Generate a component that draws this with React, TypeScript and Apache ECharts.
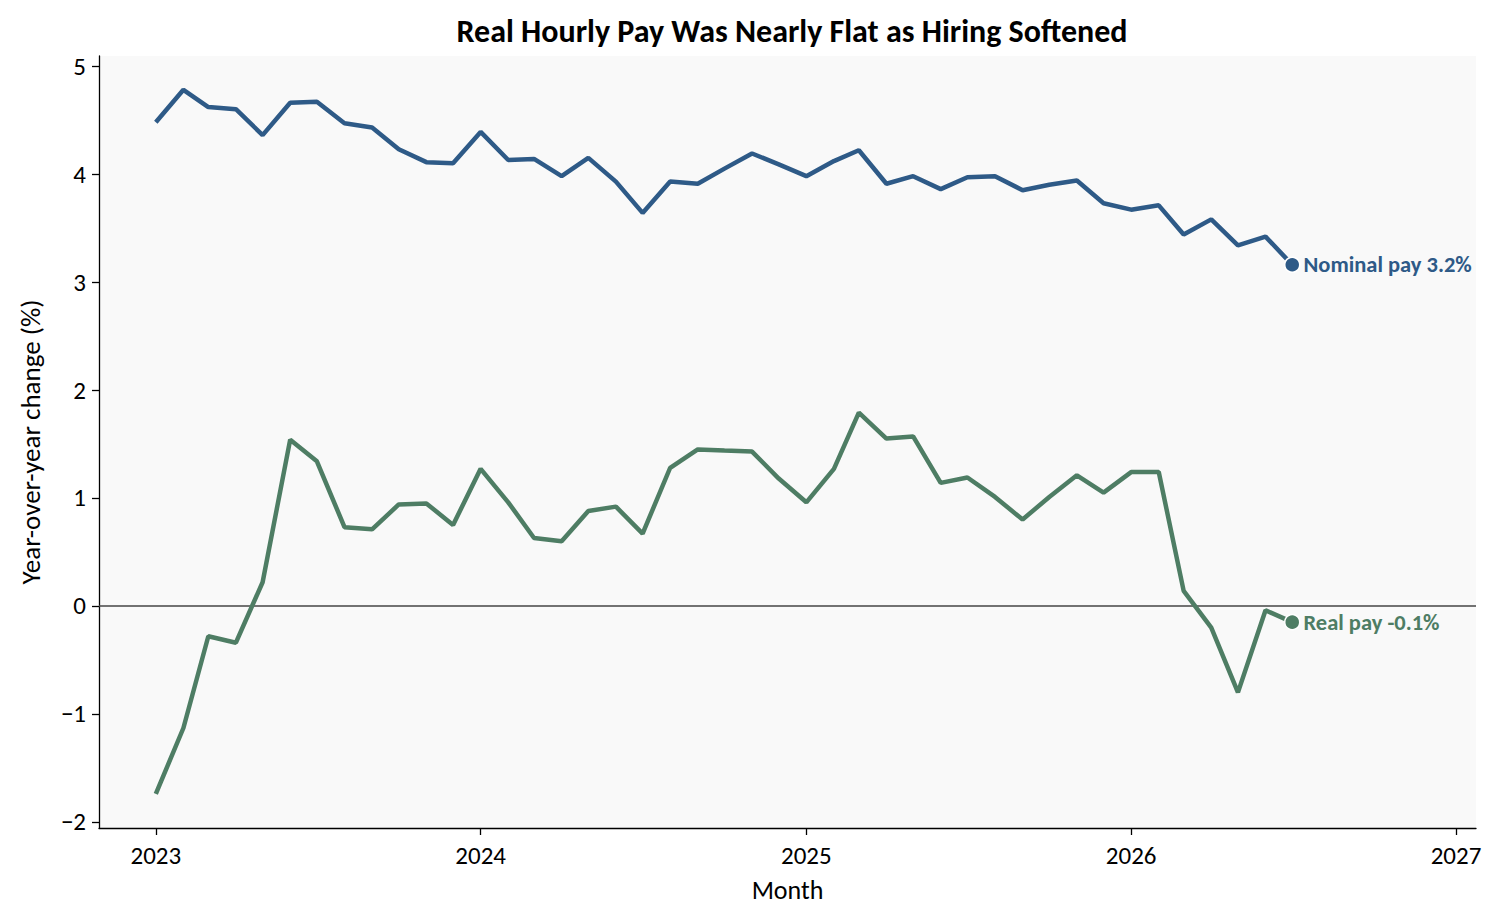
import React, { useEffect, useRef } from "react";
import * as echarts from "echarts";

const months: string[] = [
  "2023-01","2023-02","2023-03","2023-04","2023-05","2023-06","2023-07","2023-08","2023-09","2023-10","2023-11","2023-12",
  "2024-01","2024-02","2024-03","2024-04","2024-05","2024-06","2024-07","2024-08","2024-09","2024-10","2024-11","2024-12",
  "2025-01","2025-02","2025-03","2025-04","2025-05","2025-06","2025-07","2025-08","2025-09","2025-10","2025-11","2025-12",
  "2026-01","2026-02","2026-03","2026-04","2026-05","2026-06","2026-07",
];

const nominalPay: number[] = [
  4.48, 4.78, 4.62, 4.60, 4.36, 4.66, 4.67, 4.47, 4.43, 4.23, 4.11, 4.10,
  4.39, 4.13, 4.14, 3.98, 4.15, 3.93, 3.64, 3.93, 3.91, 4.05, 4.19, 4.09,
  3.98, 4.12, 4.22, 3.91, 3.98, 3.86, 3.97, 3.98, 3.85, 3.90, 3.94, 3.73,
  3.67, 3.71, 3.44, 3.58, 3.34, 3.42, 3.16,
];

const realPay: number[] = [
  -1.74, -1.13, -0.28, -0.34, 0.22, 1.54, 1.34, 0.73, 0.71, 0.94, 0.95, 0.75,
  1.27, 0.96, 0.63, 0.60, 0.88, 0.92, 0.67, 1.28, 1.45, 1.44, 1.43, 1.18,
  0.96, 1.27, 1.79, 1.55, 1.57, 1.14, 1.19, 1.01, 0.80, 1.01, 1.21, 1.05,
  1.24, 1.24, 0.14, -0.20, -0.80, -0.04, -0.15,
];

const yearTicks: number[] = [2023, 2024, 2025, 2026, 2027];
const yTicks: number[] = [-2, -1, 0, 1, 2, 3, 4, 5];
const endLabels: string[] = ["Nominal pay 3.2%", "Real pay -0.1%"];

const NOMINAL_COLOR = "#2E5A87";
const REAL_COLOR = "#4E7D64";
const FONT = "Carlito, Lato, sans-serif";
const DAY = 86400000;

function toTs(m: string): number {
  const [y, mo] = m.split("-").map(Number);
  return Date.UTC(y, mo - 1, 1);
}

export default function App() {
  const ref = useRef<HTMLDivElement>(null);
  useEffect(() => {
    if (!ref.current) return;
    const chart = echarts.init(ref.current, undefined, { renderer: "svg" });
    const ts = months.map(toTs);
    const nomData = ts.map((t, i) => [t, nominalPay[i]]);
    const realData = ts.map((t, i) => [t, realPay[i]]);
    const last = ts.length - 1;
    const xTickVals = yearTicks.map((y) => Date.UTC(y, 0, 1));
    const xMin = ts[0] - 63.85 * DAY;
    const xMax = Date.UTC(2027, 0, 1) + 22.5 * DAY;

    const endSeries = (point: number[], color: string, text: string) => ({
      type: "scatter",
      data: [point],
      symbolSize: 15,
      itemStyle: { color, opacity: 1, borderColor: "#fff", borderWidth: 1.5 },
      label: {
        show: true,
        position: "right",
        distance: 3,
        formatter: text,
        fontFamily: FONT,
        fontSize: 22.5,
        fontWeight: "bold",
        color,
        opacity: 1,
      },
      emphasis: { disabled: true },
      z: 5,
    });

    chart.setOption({
      animation: false,
      backgroundColor: "#FFFFFF",
      title: {
        text: "Real Hourly Pay Was Nearly Flat as Hiring Softened",
        left: 787,
        top: 10,
        textAlign: "center",
        textStyle: { fontFamily: FONT, fontSize: 32, fontWeight: "bold", color: "#000" },
      },
      grid: {
        left: 99,
        right: 27,
        top: 56,
        bottom: 96,
        show: true,
        backgroundColor: "#F9F9F9",
        borderWidth: 0,
      },
      xAxis: {
        type: "value",
        min: xMin,
        max: xMax,
        name: "Month",
        nameLocation: "middle",
        nameGap: 49,
        nameTextStyle: { fontFamily: FONT, fontSize: 26, color: "#000" },
        axisLine: { show: true, onZero: false, lineStyle: { color: "#000", width: 1.3 } },
        axisTick: { show: true, length: 7, customValues: xTickVals, lineStyle: { color: "#000", width: 1.3 } },
        axisLabel: {
          customValues: xTickVals,
          margin: 15,
          fontFamily: FONT,
          fontSize: 25,
          color: "#000",
          formatter: (v: number) => String(new Date(v).getUTCFullYear()),
        },
        splitLine: { show: false },
      },
      yAxis: {
        type: "value",
        min: -2.056,
        max: 5.093,
        name: "Year-over-year change (%)",
        nameLocation: "middle",
        nameRotate: 90,
        nameGap: 55,
        nameTextStyle: { fontFamily: FONT, fontSize: 27, color: "#000" },
        axisLine: { show: true, onZero: false, lineStyle: { color: "#000", width: 1.3 } },
        axisTick: { show: true, length: 7, customValues: yTicks, lineStyle: { color: "#000", width: 1.3 } },
        axisLabel: {
          customValues: yTicks,
          margin: 13,
          fontFamily: FONT,
          fontSize: 25,
          color: "#000",
          formatter: (v: number) => (v < 0 ? "\u2212" + Math.abs(v) : String(v)),
        },
        splitLine: { show: false },
      },
      series: [
        {
          type: "line",
          name: "Nominal pay",
          data: nomData,
          showSymbol: false,
          symbol: "none",
          lineStyle: { color: NOMINAL_COLOR, width: 4.5 },
          itemStyle: { color: NOMINAL_COLOR },
          emphasis: { disabled: true },
          z: 3,
          markLine: {
            silent: true,
            symbol: "none",
            label: { show: false },
            lineStyle: { color: "#444", width: 1.6, type: "solid" },
            data: [{ yAxis: 0 }],
            z: 1,
          },
        },
        {
          type: "line",
          name: "Real pay",
          data: realData,
          showSymbol: false,
          symbol: "none",
          lineStyle: { color: REAL_COLOR, width: 4.5 },
          itemStyle: { color: REAL_COLOR },
          emphasis: { disabled: true },
          z: 3,
        },
        endSeries(nomData[last], NOMINAL_COLOR, endLabels[0]),
        endSeries(realData[last], REAL_COLOR, endLabels[1]),
      ],
    });
    return () => chart.dispose();
  }, []);

  return (
    <div
      ref={ref}
      style={{ position: "absolute", left: 0, top: 0, width: 1503, height: 924 }}
    />
  );
}
